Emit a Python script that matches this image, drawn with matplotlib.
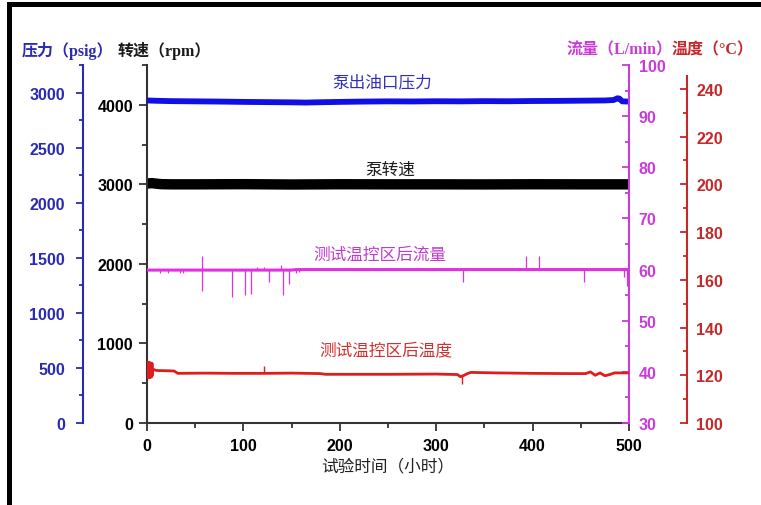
import matplotlib
matplotlib.use("Agg")
import matplotlib.pyplot as plt
from matplotlib.patches import Rectangle
from matplotlib.ticker import MultipleLocator
from matplotlib.font_manager import FontProperties

# ---------------- data ----------------
hours_pressure = [0, 10, 25, 50, 75, 100, 125, 150, 165, 180, 200, 225, 250, 275,
                  300, 325, 350, 375, 400, 425, 450, 475, 484, 488, 490, 493, 500]
pressure_psig = [2928, 2925, 2922, 2920, 2918, 2915, 2913, 2911, 2909, 2912, 2915,
                 2918, 2920, 2919, 2921, 2920, 2922, 2921, 2923, 2924, 2926, 2928,
                 2932, 2948, 2945, 2920, 2918]

hours_speed = [0, 5, 10, 15, 25, 50, 100, 150, 200, 250, 300, 350, 400, 450, 500]
speed_rpm = [3010, 3015, 3008, 3002, 3000, 3000, 3002, 2998, 3001, 3000, 3000,
             2999, 3001, 3000, 3000]

hours_flow = [0, 150, 155, 500]
flow_lpm = [59.9, 59.9, 60.0, 60.0]

flow_spike_hours = [13.5, 22, 34, 37.5, 56.7, 88.5, 101.7, 107.9, 114, 121, 126.9,
                    138.5, 141, 147.3, 155, 158, 328, 392.8, 406.6, 453.6, 495, 497.6]
flow_spike_low = [59.3, 59.3, 59.4, 59.4, 55.9, 54.6, 55.0, 55.2, 60.0, 60.0, 57.5,
                  60.0, 55.0, 57.2, 59.4, 59.5, 57.5, 60.0, 60.0, 57.5, 58.5, 56.7]
flow_spike_high = [60.0, 60.0, 60.0, 60.0, 62.6, 60.0, 60.0, 60.0, 60.5, 60.5, 60.0,
                   60.8, 60.0, 60.0, 60.0, 60.0, 60.0, 62.6, 62.6, 60.0, 60.0, 60.0]

hours_temp = [0, 0.4, 0.8, 1.2, 1.6, 2.0, 2.4, 2.8, 3.2, 3.6, 4.0, 4.4, 4.8, 5.2,
              5.6, 6.0, 10, 20, 28, 32, 60, 90, 121, 150, 180, 185,
              250, 300, 322, 325, 328, 333, 336, 360, 400, 440, 455, 460, 465,
              470, 475, 480, 485, 500]
temp_c = [121, 125.5, 119, 125.3, 118.9, 125.5, 119.2, 125, 119, 125.2, 119.5,
          124.8, 119.3, 125, 120, 122.5, 122, 121.9, 121.8, 120.8, 120.9, 120.8,
          120.8, 120.9, 120.7, 120.4, 120.4, 120.5, 120.3, 119.4, 119.8,
          120.8, 121.2, 121, 120.8, 120.7, 120.7, 121.4, 120.0, 121.0, 119.8,
          120.3, 121.0, 121.0]

temp_spike_hours = [121.7, 327]
temp_spike_low = [120.8, 116.3]
temp_spike_high = [124.0, 120.0]

x_ticks = [0, 100, 200, 300, 400, 500]

# ---------------- style ----------------
C_BLUE_AX = "#2a2ab2"
C_BLUE_LN = "#1010e6"
C_MAG_AX = "#c83cd8"
C_MAG_LN = "#e030e0"
C_RED_AX = "#c42828"
C_RED_LN = "#e01c1c"
TICKFONT = dict(family="Liberation Sans", weight="bold", size=11.5)
CJK = ["Noto Sans CJK SC", "DejaVu Sans"]
TITLEFONT = ["Liberation Serif", "Noto Sans CJK SC"]

W, H = 761, 506
fig = plt.figure(figsize=(W / 100, H / 100), dpi=100)
L, R, T, B = 147, 629, 66, 424
ax = fig.add_axes([L / W, (H - B) / H, (R - L) / W, (B - T) / H])
ax.set_facecolor("none")

ax_p = ax.twinx()
ax_f = ax.twinx()
ax_t = ax.twinx()
for a in (ax_p, ax_f, ax_t):
    for s in a.spines.values():
        s.set_visible(False)
    a.set_facecolor("none")


def bold_ticks(a):
    for lab in a.get_xticklabels() + a.get_yticklabels():
        lab.set_fontproperties(FontProperties(**TICKFONT))


# main axis: rpm / hours
ax.spines["top"].set_visible(False)
ax.spines["right"].set_visible(False)
for s in ("left", "bottom"):
    ax.spines[s].set_linewidth(1.5)
    ax.spines[s].set_color("#333333")
ax.set_xlim(0, 500)
ax.set_ylim(0, 4500)
ax.set_xticks(x_ticks)
ax.xaxis.set_minor_locator(MultipleLocator(50))
ax.yaxis.set_major_locator(MultipleLocator(1000))
ax.yaxis.set_minor_locator(MultipleLocator(500))
ax.tick_params(axis="both", which="major", direction="out", length=6, width=1.3,
               color="#333333", pad=4)
ax.tick_params(axis="both", which="minor", direction="out", length=3.5, width=1.3,
               color="#333333")
ax.tick_params(axis="x", pad=5)
bold_ticks(ax)
ax.set_xlabel("试验时间（小时）", family=CJK, fontsize=12, color="#222222", labelpad=3)

# pressure axis (outer left)
ax_p.spines["left"].set_visible(True)
ax_p.spines["left"].set_position(("axes", (83 - L) / (R - L)))
ax_p.spines["left"].set_color(C_BLUE_AX)
ax_p.spines["left"].set_linewidth(1.5)
ax_p.yaxis.set_ticks_position("left")
ax_p.yaxis.set_label_position("left")
ax_p.set_ylim(0, 3250)
ax_p.yaxis.set_major_locator(MultipleLocator(500))
ax_p.yaxis.set_minor_locator(MultipleLocator(250))
ax_p.tick_params(axis="y", which="major", direction="out", length=5, width=1.3,
                 color=C_BLUE_AX, labelcolor=C_BLUE_AX, pad=8)
ax_p.tick_params(axis="y", which="minor", direction="out", length=3, width=1.3,
                 color=C_BLUE_AX)
bold_ticks(ax_p)

# flow axis (inner right)
ax_f.spines["right"].set_visible(True)
ax_f.spines["right"].set_color(C_MAG_AX)
ax_f.spines["right"].set_linewidth(1.5)
ax_f.set_ylim(30, 100)
ax_f.yaxis.set_major_locator(MultipleLocator(10))
ax_f.yaxis.set_minor_locator(MultipleLocator(5))
ax_f.tick_params(axis="y", which="major", direction="in", length=5, width=1.3,
                 color=C_MAG_AX, labelcolor=C_MAG_AX, pad=7)
ax_f.tick_params(axis="y", which="minor", direction="in", length=3, width=1.3,
                 color=C_MAG_AX)
bold_ticks(ax_f)

# temperature axis (outer right)
ax_t.spines["right"].set_visible(True)
ax_t.spines["right"].set_position(("axes", (687 - L) / (R - L)))
ax_t.spines["right"].set_color(C_RED_AX)
ax_t.spines["right"].set_linewidth(1.5)
ax_t.set_ylim(100, 250)
ax_t.spines["right"].set_bounds(100, 245.5)
ax_t.set_yticks([100, 120, 140, 160, 180, 200, 220, 240])
ax_t.set_yticks([110, 130, 150, 170, 190, 210, 230], minor=True)
ax_t.tick_params(axis="y", which="major", direction="in", length=5, width=1.3,
                 color=C_RED_AX, labelcolor=C_RED_AX, pad=6.5)
ax_t.tick_params(axis="y", which="minor", direction="in", length=3, width=1.3,
                 color=C_RED_AX)
bold_ticks(ax_t)

# ---------------- data drawing ----------------
ax.plot(hours_speed, speed_rpm, color="black", lw=7.5, solid_capstyle="butt")
ax_p.plot(hours_pressure, pressure_psig, color=C_BLUE_LN, lw=4.2, solid_capstyle="butt")
ax_f.vlines(flow_spike_hours, flow_spike_low, flow_spike_high, color=C_MAG_LN, lw=0.9)
ax_f.plot(hours_flow, flow_lpm, color=C_MAG_LN, lw=2.2, solid_capstyle="butt")
ax_t.vlines(temp_spike_hours, temp_spike_low, temp_spike_high, color=C_RED_LN, lw=1.0)
ax_t.plot(hours_temp, temp_c, color=C_RED_LN, lw=2.0, solid_capstyle="butt")

# series labels
ax.text(244, 4286, "泵出油口压力", family=CJK, fontsize=12, color="#2e2ec4",
        ha="center", va="center", weight="medium")
ax.text(252.7, 3193, "泵转速", family=CJK, fontsize=12, color="#1a1a1a",
        ha="center", va="center", weight="medium")
ax.text(241.3, 2124, "测试温控区后流量", family=CJK, fontsize=12, color="#c03cd0",
        ha="center", va="center", weight="medium")
ax.text(247.3, 918, "测试温控区后温度", family=CJK, fontsize=12, color="#d03030",
        ha="center", va="center", weight="medium")

# axis titles at the top
ty = 1 - 50.5 / H
fig.text(22 / W, ty, "压力（psig）", family=TITLEFONT, weight="bold", fontsize=11.5,
         color=C_BLUE_AX, ha="left", va="center")
fig.text(118 / W, ty, "转速（rpm）", family=TITLEFONT, weight="bold", fontsize=11.5,
         color="#1a1a1a", ha="left", va="center")
fig.text(567 / W, ty, "流量（L/min）", family=TITLEFONT, weight="bold", fontsize=11.5,
         color=C_MAG_AX, ha="left", va="center")
fig.text(672 / W, ty, "温度（°C）", family=TITLEFONT, weight="bold", fontsize=11.5,
         color=C_RED_AX, ha="left", va="center")

# black frame (left and top edges)
fig.add_artist(Rectangle((7 / W, 0), 5 / W, (H - 3) / H, transform=fig.transFigure,
                         facecolor="black", edgecolor="none"))
fig.add_artist(Rectangle((7 / W, 1 - 8 / H), 1, 5 / H, transform=fig.transFigure,
                         facecolor="black", edgecolor="none"))

fig.savefig("out.png", dpi=100)
